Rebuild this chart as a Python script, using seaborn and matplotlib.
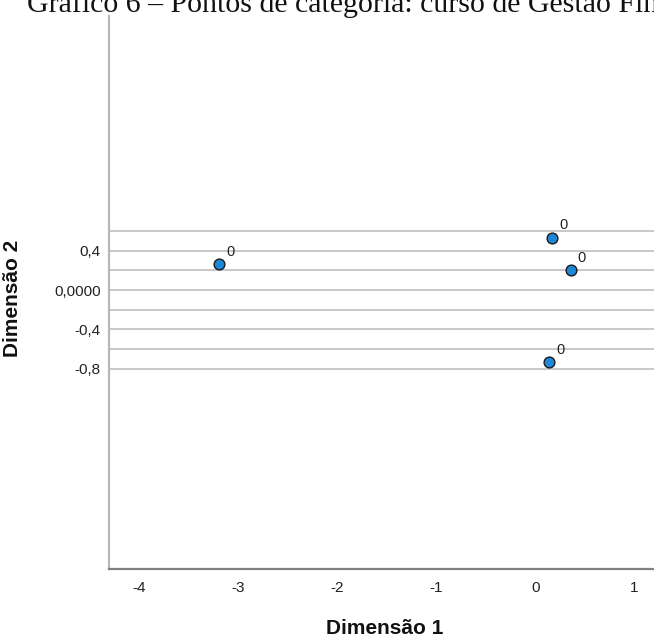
import numpy as np
import pandas as pd
import matplotlib
matplotlib.use("Agg")
import matplotlib.pyplot as plt
import seaborn as sns

# category points
dim1 = [-3.19, 0.17, 0.36, 0.14]
dim2 = [0.26, 0.53, 0.20, -0.73]
point_labels = ["0", "0", "0", "0"]

x_ticks = [-4, -3, -2, -1, 0, 1]
y_ticks = [0.4, 0.0, -0.4, -0.8]
y_tick_labels = ["0,4", "0,0000", "-0,4", "-0,8"]
grid_lines = [0.6, 0.4, 0.2, 0.0, -0.2, -0.4, -0.6, -0.8]

title = "Gráfico 6 – Pontos de categoria: curso de Gestão Financeira"

df = pd.DataFrame({"Dimensão 1": dim1, "Dimensão 2": dim2, "label": point_labels})

sns.set_style("white")
plt.rcParams['font.family'] = ['Liberation Sans', 'DejaVu Sans']

W, H = 654, 642
fig = plt.figure(figsize=(W / 100, H / 100), dpi=100)
ax = fig.add_axes([109 / W, (H - 569) / H, (661 - 109) / W, (569 - 16) / H])

for g in grid_lines:
    ax.axhline(g, color="#c4c4c4", lw=1.3, zorder=1)

sns.scatterplot(data=df, x="Dimensão 1", y="Dimensão 2", ax=ax, s=60,
                color="#1e88d8", edgecolor="#1a1a1a", linewidth=1, zorder=3)

for x, y, t in zip(df["Dimensão 1"], df["Dimensão 2"], df["label"]):
    ax.annotate(t, (x, y), xytext=(5, 6), textcoords="offset points",
                fontsize=10.5, color="#222222")

ax.set_xlim(-4.3, 1.27)
ax.set_ylim(-2.83, 2.78)
ax.set_xticks(x_ticks)
ax.set_xticklabels([str(v) for v in x_ticks])
ax.set_yticks(y_ticks)
ax.set_yticklabels(y_tick_labels)
ax.tick_params(axis="both", length=0, labelsize=11, colors="#222222")
ax.tick_params(axis="x", pad=9)
ax.tick_params(axis="y", pad=6)

ax.set_xlabel("Dimensão 1", fontsize=15, fontweight="bold", color="#111111")
ax.set_ylabel("Dimensão 2", fontsize=15, fontweight="bold", color="#111111")
ax.xaxis.set_label_coords((385 - 109) / 552, (569 - 619) / 553)
ax.yaxis.set_label_coords((22 - 109) / 552, 0.49)

ax.spines["top"].set_visible(False)
ax.spines["right"].set_visible(False)
ax.spines["left"].set_color("#b8b8b8")
ax.spines["left"].set_linewidth(1.6)
ax.spines["bottom"].set_color("#808080")
ax.spines["bottom"].set_linewidth(1.6)

fig.text(27 / W, 1 - 12 / H, title, family="Liberation Serif", fontsize=21.5,
         va="baseline", ha="left", color="#111111")

plt.savefig("out.png", dpi=100)
